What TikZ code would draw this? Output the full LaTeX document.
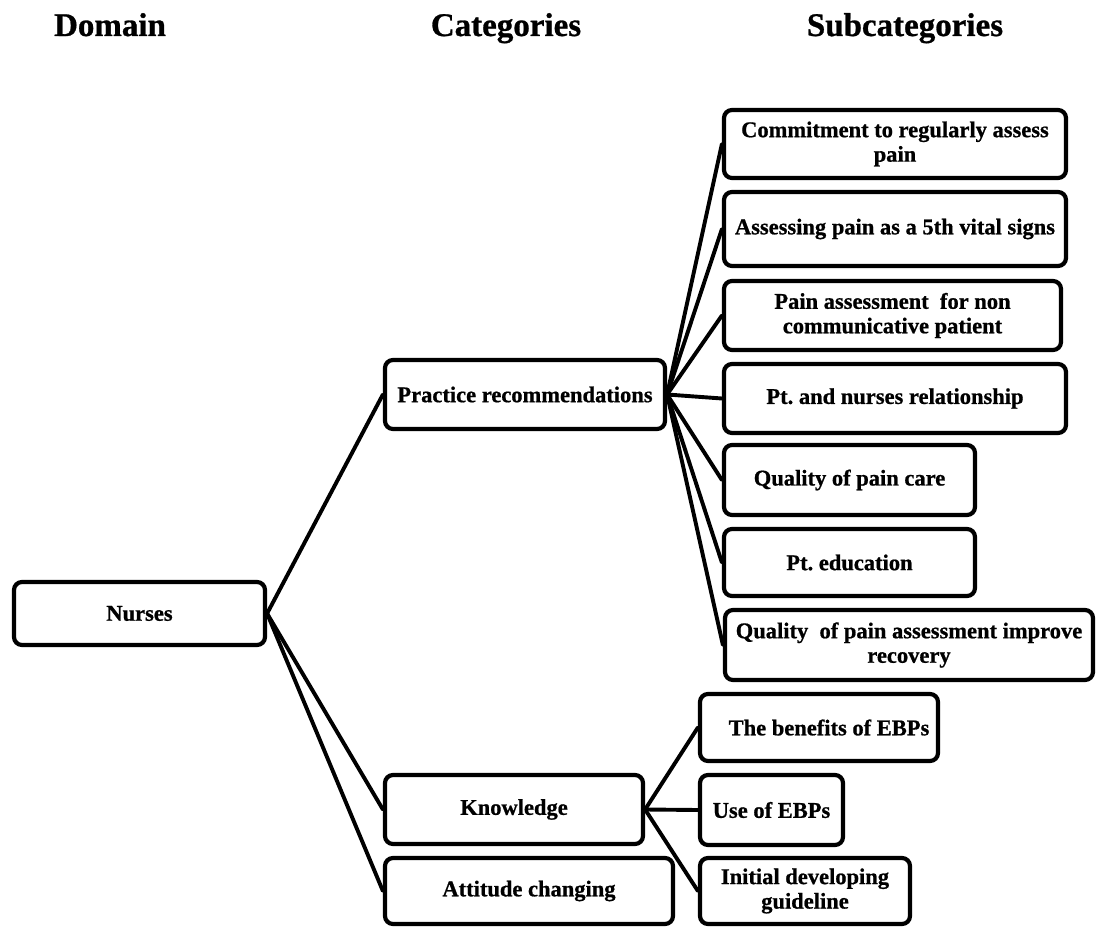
\documentclass[tikz,border=0pt]{standalone}
\usepackage{fontspec}
\setmainfont{Liberation Serif}[BoldFeatures={FakeBold=0.8}]
\frenchspacing
\begin{document}
\begin{tikzpicture}[x=1pt,y=-1pt,
  box/.style={draw=black, line width=4.2pt, rounded corners=8pt, fill=white,
    inner sep=0pt, align=center,
    font=\fontsize{22.5}{24.5}\selectfont\bfseries},
  heading/.style={anchor=base, inner sep=0pt,
    font=\fontsize{33}{36}\selectfont\bfseries},
  link/.style={line width=3.9pt, line cap=round}]
\useasboundingbox[fill=white] (0,0) rectangle (1096,928);

% column headings
\node[heading] (hdom) at (110,36) {Domain};
\node[heading] (hcat) at (506,36) {Categories};
\node[heading] (hsub) at (905,36) {Subcategories};

% domain
\node[box, minimum width=251, minimum height=63] (nurses) at (139.5,613.5) {Nurses};

% categories
\node[box, minimum width=280, minimum height=69] (prac) at (525,394.5) {Practice recommendations};
\node[box, minimum width=258, minimum height=69] (know) at (514,809.5) {Knowledge};
\node[box, minimum width=288, minimum height=66] (att) at (529,891) {Attitude changing};

% subcategories of practice recommendations
\node[box, minimum width=342, minimum height=68] (s1) at (895,144) {Commitment to regularly assess\\pain};
\node[box, minimum width=342, minimum height=74] (s2) at (895,229) {Assessing pain as a 5th vital signs};
\node[box, minimum width=337, minimum height=69] (s3) at (892.5,315.5) {Pain assessment\hspace{0.5em}for non\\communicative patient};
\node[box, minimum width=342, minimum height=69] (s4) at (895,398.5) {Pt. and nurses relationship};
\node[box, minimum width=251, minimum height=70] (s5) at (849.5,480) {Quality of pain care};
\node[box, minimum width=251, minimum height=67] (s6) at (849.5,562.5) {Pt. education};
\node[box, minimum width=368, minimum height=70] (s7) at (909,645) {Quality\hspace{0.5em}of pain assessment improve\\recovery};

% subcategories of knowledge
\node[box, minimum width=238, minimum height=67] (k1) at (819,727.5) {\hspace{20pt}The benefits of EBPs};
\node[box, minimum width=143, minimum height=70] (k2) at (771.5,810) {Use of EBPs};
\node[box, minimum width=210, minimum height=66] (k3) at (805,891) {Initial developing\\guideline};

% connectors
\foreach \c in {prac,know,att}
  \draw[link] (nurses.east) -- (\c.west);
\foreach \s in {s1,s2,s3,s4,s5,s6,s7}
  \draw[link] (prac.east) -- (\s.west);
\foreach \k in {k1,k2,k3}
  \draw[link] (know.east) -- (\k.west);
\end{tikzpicture}
\end{document}
